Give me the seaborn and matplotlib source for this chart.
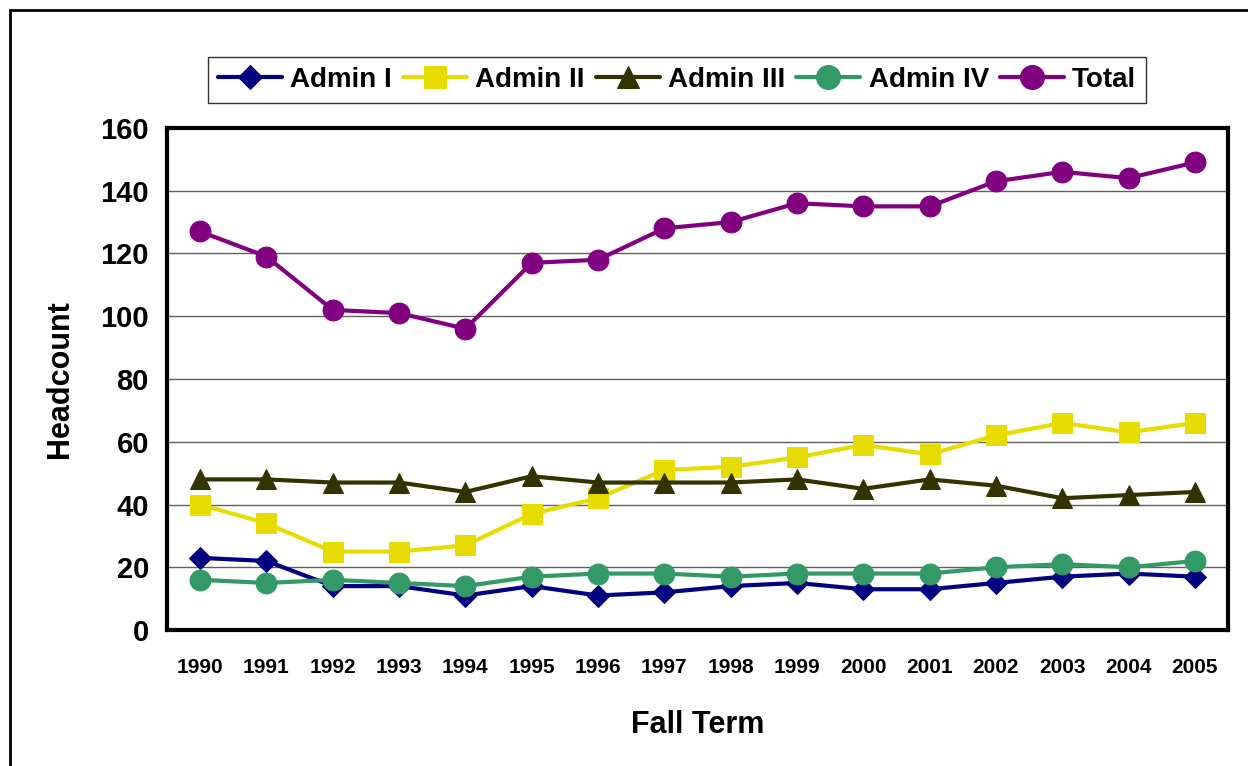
import pandas as pd
import numpy as np
import matplotlib
matplotlib.use('Agg')
import matplotlib.pyplot as plt
from matplotlib.patches import Rectangle
import seaborn as sns

sns.set_theme(style='white')
plt.rcParams['font.family'] = ['Liberation Sans', 'DejaVu Sans']
plt.rcParams['font.weight'] = 'bold'
for k in ['text.color', 'axes.labelcolor', 'xtick.color', 'ytick.color']:
    plt.rcParams[k] = 'black'

# data
years = [str(y) for y in range(1990, 2006)]
admin1 = [23, 22, 14, 14, 11, 14, 11, 12, 14, 15, 13, 13, 15, 17, 18, 17]
admin2 = [40, 34, 25, 25, 27, 37, 42, 51, 52, 55, 59, 56, 62, 66, 63, 66]
admin3 = [48, 48, 47, 47, 44, 49, 47, 47, 47, 48, 45, 48, 46, 42, 43, 44]
admin4 = [16, 15, 16, 15, 14, 17, 18, 18, 17, 18, 18, 18, 20, 21, 20, 22]
total = [127, 119, 102, 101, 96, 117, 118, 128, 130, 136, 135, 135, 143, 146, 144, 149]

names = ['Admin I', 'Admin II', 'Admin III', 'Admin IV', 'Total']
series = [admin1, admin2, admin3, admin4, total]
colors = ['#000080', '#E6DC00', '#333300', '#339966', '#800080']
markers = ['D', 's', '^', 'o', 'o']
msizes = [11, 14, 14, 15, 15]

df = pd.DataFrame({'year': years * len(names),
                   'count': sum(series, []),
                   'series': np.repeat(names, len(years))})

fig = plt.figure(figsize=(12.48, 7.66), dpi=100)
ax = fig.add_axes([0.1338, 0.1775, 0.8502, 0.6555])

for name, col, mk, ms in zip(names, colors, markers, msizes):
    sub = df[df['series'] == name]
    sns.lineplot(data=sub, x='year', y='count', ax=ax, color=col, marker=mk,
                 markersize=ms, markeredgecolor=col, linewidth=3, label=name,
                 legend=False)

ax.set_xlim(-0.5, len(years) - 0.5)
ax.set_ylim(0, 160)
ax.set_yticks(range(0, 161, 20))
ax.set_xticks(range(len(years)))
ax.set_xticklabels(years, fontsize=15, fontweight='bold')
ax.set_xticks(np.arange(-0.5, len(years)), minor=True)
ax.tick_params(axis='x', which='major', length=0, pad=20)
ax.tick_params(axis='x', which='minor', length=6, width=1, direction='out')
ax.tick_params(axis='y', labelsize=21, length=6, width=1, direction='out', pad=7)
for t in ax.get_yticklabels():
    t.set_fontweight('bold')
ax.yaxis.grid(True, color='#606060', linewidth=1)
ax.set_axisbelow(True)
for s in ax.spines.values():
    s.set_color('black')
    s.set_linewidth(3)

ax.set_xlabel('Fall Term', fontsize=22, fontweight='bold', labelpad=24)
ax.set_ylabel('Headcount', fontsize=22, fontweight='bold', labelpad=18)

handles, labels = ax.get_legend_handles_labels()
leg = fig.legend(handles, labels, loc='center', bbox_to_anchor=(0.5425, 0.8956),
                 ncol=5, frameon=True, fancybox=False, markerscale=1.15,
                 handlelength=2.3, columnspacing=0.4, handletextpad=0.3,
                 borderpad=0.35, prop={'weight': 'bold', 'size': 20})
leg.get_frame().set_edgecolor('black')
leg.get_frame().set_linewidth(1)

# outer chart-area border
fig.patches.append(Rectangle((10 / 1248, -0.1), 1.2, 1 - 10 / 766 + 0.1,
                             transform=fig.transFigure, fill=False,
                             edgecolor='black', linewidth=2))

fig.savefig('out.png', dpi=100)
